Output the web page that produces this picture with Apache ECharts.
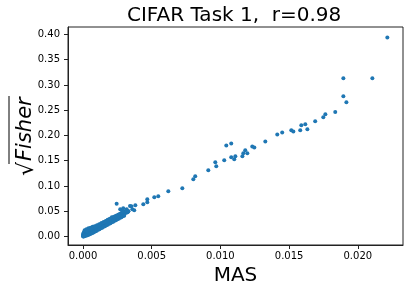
<!DOCTYPE html>
<html><head><meta charset="utf-8">
<script src="https://cdn.jsdelivr.net/npm/echarts@6/dist/echarts.min.js"></script>
<style>html,body{margin:0;padding:0;background:#fff}#c{width:409px;height:292px}</style>
</head><body><div id="c"></div>
<script>
const titleText = 'CIFAR Task 1,  r=0.98';
const xName = 'MAS';
const xTicks = [0, 0.005, 0.010, 0.015, 0.020];
const yTicks = [0, 0.05, 0.10, 0.15, 0.20, 0.25, 0.30, 0.35, 0.40];

// dense cluster near origin (middle of band)
const clusterMAS = [0.00000,0.00001,0.00002,0.00003,0.00004,0.00006,0.00007,0.00009,0.00010,0.00012,0.00013,0.00015,0.00017,0.00018,0.00020,0.00022,0.00024,0.00025,0.00027,0.00029,0.00030,0.00032,0.00034,0.00036,0.00038,0.00040,0.00042,0.00044,0.00046,0.00048,0.00050,0.00053,0.00055,0.00058,0.00060,0.00063,0.00065,0.00068,0.00070,0.00073,0.00076,0.00079,0.00082,0.00085,0.00088,0.00091,0.00094,0.00097,0.00100,0.00104,0.00108,0.00112,0.00116,0.00120,0.00124,0.00128,0.00132,0.00136,0.00140,0.00145,0.00150,0.00155,0.00160,0.00165,0.00170,0.00175,0.00180,0.00185,0.00190,0.00195,0.00200,0.00205,0.00210,0.00215,0.00220,0.00225,0.00230,0.00235,0.00240,0.00245,0.00250,0.00255,0.00260,0.00265,0.00270,0.00275,0.00280,0.00285,0.00290,0.00295,0.00300,0.00305,0.00310,0.00315,0.00320,0.00325,0.00330];
const clusterFisher = [0.001,0.004,0.000,0.006,0.002,0.008,0.003,0.005,0.001,0.007,0.010,0.004,0.006,0.002,0.009,0.005,0.011,0.003,0.007,0.012,0.005,0.009,0.004,0.010,0.007,0.013,0.006,0.009,0.011,0.007,0.014,0.009,0.012,0.008,0.010,0.014,0.011,0.009,0.015,0.012,0.011,0.017,0.014,0.012,0.018,0.015,0.013,0.019,0.016,0.014,0.020,0.018,0.020,0.017,0.023,0.021,0.019,0.025,0.023,0.021,0.027,0.024,0.027,0.024,0.030,0.028,0.031,0.029,0.032,0.030,0.034,0.032,0.035,0.033,0.037,0.035,0.038,0.036,0.040,0.038,0.041,0.039,0.043,0.041,0.044,0.042,0.046,0.044,0.046,0.044,0.048,0.046,0.049,0.047,0.050,0.048,0.050];

// lower side of band
const bandMAS = [0.00005,0.00012,0.00020,0.00028,0.00036,0.00045,0.00052,0.00060,0.00068,0.00076,0.00084,0.00092,0.00100,0.00110,0.00120,0.00130,0.00140,0.00150,0.00160,0.00170,0.00180,0.00190,0.00200,0.00210,0.00220,0.00230,0.00240,0.00250,0.00260,0.00270,0.00280,0.00290,0.00300,0.00012,0.00025,0.00040,0.00055,0.00070,0.00085,0.00102,0.00118,0.00134,0.00150,0.00166,0.00182,0.00198,0.00214,0.00230,0.00246,0.00262,0.00278];
const bandFisher = [0.000,0.001,0.002,0.002,0.003,0.004,0.005,0.006,0.007,0.008,0.009,0.010,0.011,0.013,0.014,0.016,0.017,0.019,0.020,0.022,0.023,0.025,0.026,0.028,0.029,0.031,0.032,0.034,0.035,0.037,0.038,0.040,0.041,0.012,0.014,0.016,0.017,0.019,0.020,0.022,0.024,0.026,0.028,0.030,0.031,0.033,0.035,0.037,0.039,0.041,0.043];

// upper side of band
const upperMAS = [0.00030,0.00045,0.00060,0.00075,0.00090,0.00105,0.00120,0.00135,0.00150,0.00165,0.00180,0.00195,0.00210,0.00225,0.00240,0.00255,0.00270,0.00285,0.00300,0.00315];
const upperFisher = [0.010,0.013,0.015,0.017,0.019,0.021,0.023,0.026,0.028,0.030,0.033,0.035,0.038,0.039,0.041,0.043,0.045,0.047,0.049,0.051];

// scattered points
const spreadMAS = [0.00245,0.00271,0.00289,0.00293,0.00318,0.00330,0.00342,0.00352,0.00359,0.00373,0.00381,0.00439,0.00468,0.00468,0.00519,0.00548,0.00621,0.00723,0.00803,0.00817,0.00912,0.00970,0.00963,0.01028,0.01101,0.01079,0.01109,0.01160,0.01167,0.01196,0.01181,0.01043,0.01079,0.01232,0.01247,0.01327,0.01414,0.01450,0.01516,0.01531,0.01581,0.01633,0.01589,0.01618,0.01690,0.01749,0.01764,0.01836,0.01917,0.01895,0.01895,0.02106,0.02215];
const spreadFisher = [0.0645,0.0537,0.0497,0.0556,0.0537,0.0497,0.0600,0.0596,0.0537,0.0517,0.0616,0.0636,0.0675,0.0734,0.0774,0.0794,0.0893,0.0952,0.1130,0.1190,0.1309,0.1388,0.1467,0.1507,0.1527,0.1566,0.1586,0.1586,0.1646,0.1646,0.1705,0.1800,0.1840,0.1780,0.1760,0.1880,0.2020,0.2060,0.2100,0.2080,0.2100,0.2120,0.2200,0.2220,0.2280,0.2358,0.2418,0.2463,0.2655,0.2774,0.3130,0.3130,0.3940];

const points = [];
clusterMAS.forEach((m, i) => points.push([m, clusterFisher[i]]));
bandMAS.forEach((m, i) => points.push([m, bandFisher[i]]));
upperMAS.forEach((m, i) => points.push([m, upperFisher[i]]));
spreadMAS.forEach((m, i) => points.push([m, spreadFisher[i]]));

const ink = '#222';
const chart = echarts.init(document.getElementById('c'), null, {renderer: 'canvas'});
chart.setOption({
  animation: false,
  backgroundColor: '#fff',
  title: {
    text: titleText, left: 122, top: 1,
    textStyle: {fontFamily: 'DejaVu Sans', fontSize: 20, fontWeight: 'normal', color: '#000'}
  },
  grid: {left: 68, right: 6, top: 27, bottom: 47, show: true, borderColor: ink, borderWidth: 1, backgroundColor: 'transparent'},
  xAxis: {
    type: 'value', min: -0.00109, max: 0.02329,
    name: xName, nameLocation: 'middle', nameGap: 20,
    nameTextStyle: {fontFamily: 'DejaVu Sans', fontSize: 20, color: '#000'},
    splitLine: {show: false},
    axisLine: {show: true, onZero: false, lineStyle: {color: ink, width: 1}},
    axisTick: {show: true, length: 4, lineStyle: {color: ink}, customValues: xTicks},
    axisLabel: {customValues: xTicks, margin: 6, fontFamily: 'DejaVu Sans', fontSize: 10, color: '#000', formatter: v => v.toFixed(3)}
  },
  yAxis: {
    type: 'value', min: -0.017, max: 0.4147,
    splitLine: {show: false},
    axisLine: {show: true, onZero: false, lineStyle: {color: ink, width: 1}},
    axisTick: {show: true, length: 4, lineStyle: {color: ink}, customValues: yTicks},
    axisLabel: {customValues: yTicks, margin: 8, fontFamily: 'DejaVu Sans', fontSize: 10, color: '#000', formatter: v => v.toFixed(2)}
  },
  graphic: [{
    type: 'group', x: 26, y: 136, rotation: Math.PI / 2,
    children: [
      {type: 'text', x: -40, y: 1, style: {text: '\u221A', font: '22px "DejaVu Sans"', fill: '#000', textVerticalAlign: 'middle', textAlign: 'left'}},
      {type: 'text', x: -25, y: 0, style: {text: 'Fisher', font: 'italic 21px "DejaVu Sans"', fill: '#000', textVerticalAlign: 'middle', textAlign: 'left'}},
      {type: 'line', shape: {x1: -28, y1: -17, x2: 40, y2: -17}, style: {stroke: '#000', lineWidth: 1}}
    ]
  }],
  series: [{
    type: 'scatter', data: points, symbol: 'circle', symbolSize: 4,
    itemStyle: {color: '#1f77b4', opacity: 1}
  }]
});
</script></body></html>
